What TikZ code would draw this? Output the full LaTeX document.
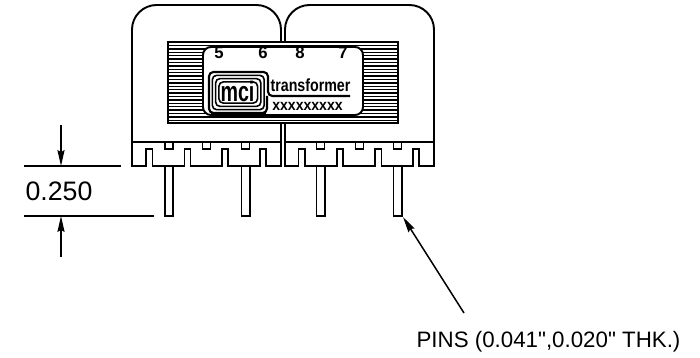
\documentclass[tikz,border=0pt]{standalone}
\usepackage{fontspec}
\setmainfont{Liberation Sans}
\newfontfamily\plainsans{Liberation Sans}
\usetikzlibrary{arrows.meta}
\tikzset{
  part/.style={line width=1.1pt,line join=miter},
  thin part/.style={line width=0.85pt},
  hatch/.style={line width=0.7pt},
  ring/.style={line width=0.9pt,rounded corners=2.5pt},
  leader/.style={line width=0.85pt,-{Stealth[length=9pt,width=4pt,inset=1pt]}},
  label/.style={inner sep=0pt,font=\fontsize{15.2}{16}\selectfont},
  pinno/.style={inner sep=0pt,font=\bfseries\fontsize{9.5}{10}\selectfont}
}
\begin{document}
\begin{tikzpicture}[x=0.02cm,y=-0.02cm]
  \useasboundingbox (0,0) rectangle (700,358);
  \draw[part,rounded corners=14pt] (132,142) -- (132,5) -- (281,5) -- (281,142);
  \draw[part,rounded corners=14pt] (285,142) -- (285,5) -- (434,5) -- (434,142);
  \draw[part] (132,142) -- (281,142) (285,142) -- (434,142);
  \draw[part] (132,142) -- (132,166) -- (146,166) -- (146,149) -- (152.5,149) -- (152.5,166)
    -- (184.5,166) -- (184.5,149) -- (190.5,149) -- (190.5,166)
    -- (222,166) -- (222,149) -- (228,149) -- (228,166)
    -- (260,166) -- (260,149) -- (266,149) -- (266,166) -- (281,166) -- (281,142);
  \draw[part] (285,142) -- (285,166) -- (298.5,166) -- (298.5,149) -- (305,149) -- (305,166)
    -- (337,166) -- (337,149) -- (343,149) -- (343,166)
    -- (375,166) -- (375,149) -- (381.5,149) -- (381.5,166)
    -- (413,166) -- (413,149) -- (419,149) -- (419,166) -- (434,166) -- (434,142);
  \foreach \x in {165,202.5,241.5,316.5,355.5,393.5}
    \draw[thin part] (\x,142) rectangle (\x+8,149);
  \foreach \x in {165,241.5,316.5,393.5}
    \draw[part] (\x,166) -- (\x,216) -- (\x+8.3,216) -- (\x+8.3,166);
  \fill[white] (168,42) rectangle (398,123);
  \draw[part] (168,42) rectangle (398,123);
  \foreach \y in {45.5,48.9,...,121}
    \draw[hatch] (168,\y) -- (398,\y);
  \draw[part,fill=white,rounded corners=4.5pt] (203,47) rectangle (363,115);
  \node (pinA) at (219,53) [pinno] {5};
  \node (pinB) at (263,53) [pinno] {6};
  \node (pinC) at (300,53) [pinno] {8};
  \node (pinD) at (343,53) [pinno] {7};
  \draw[line width=1.2pt,rounded corners=2.5pt] (350,96) -- (268,96) -- (268,72) -- (209,72) -- (209,113) -- (267,113) -- (267,96);
  \foreach \i in {3.3,6.6,9.9}
    \draw[ring] (209+\i,72+\i) rectangle (267.5-\i,113-\i);
  \fill[black] (211,112) rectangle (266,115);
  \node (logo) at (237.5,91.5) [inner sep=0pt,font=\bfseries\fontsize{16}{17}\selectfont] {\scalebox{0.7}[1]{mci}};
  \node (brand) at (310.5,85) [inner sep=0pt,font=\bfseries\fontsize{10}{11}\selectfont] {\scalebox{0.81}[1]{transformer}};
  \node (partno) at (307.5,106) [inner sep=0pt,font=\bfseries\fontsize{8.8}{9}\selectfont] {\scalebox{0.91}[1]{xxxxxxxxx}};
  \coordinate (dimTopL) at (24,166);
  \coordinate (dimTopR) at (121,166);
  \coordinate (dimBotL) at (24,216);
  \coordinate (dimBotR) at (154,216);
  \draw[thin part] (dimTopL) -- (dimTopR) (dimBotL) -- (dimBotR);
  \node (dimText) at (59,191) [label] {0.250};
  \coordinate (dimA) at (61,125);
  \coordinate (dimB) at (61,166);
  \coordinate (dimC) at (61,257);
  \coordinate (dimD) at (61,216);
  \draw[leader] (dimA) -- (dimB);
  \draw[leader] (dimC) -- (dimD);
  \node (pinsText) at (548.5,342) [inner sep=0pt,font=\plainsans\fontsize{12.7}{14}\selectfont] {PINS (0.041",0.020" THK.)};
  \coordinate (pinTip) at (403,217);
  \coordinate (pinTail) at (464,313);
  \draw[leader] (pinTail) -- (pinTip);
\end{tikzpicture}
\end{document}
